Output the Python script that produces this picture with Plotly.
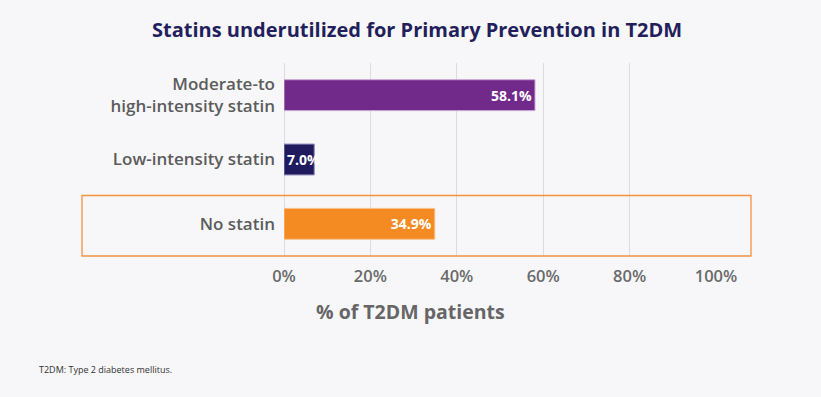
import plotly.graph_objects as go

categories = ["Moderate-to<br>high-intensity statin", "Low-intensity statin", "No statin"]
values = [58.1, 7.0, 34.9]
labels = ["58.1%", "7.0%", "34.9%"]
colors = ["#722a8a", "#201b5e", "#f48a22"]
edge_colors = ["#c9a6d4", "#8f8bb8", "#f8c08a"]
text_anchor = ["end", "start", "end"]
tick_vals = [0, 20, 40, 60, 80, 100]
tick_text = ["0%", "20%", "40%", "60%", "80%", "100%"]

FONT = "Open Sans"
fig = go.Figure()
for i in range(len(categories)):
    fig.add_trace(go.Bar(
        x=[values[i]], y=[categories[i]], orientation="h",
        marker=dict(color=colors[i], line=dict(color=edge_colors[i], width=1)),
        width=0.48,
        text=[labels[i]], textposition="inside", insidetextanchor=text_anchor[i],
        constraintext="none", textangle=0,
        textfont=dict(family=FONT, size=14, color="white", weight="bold"),
        hoverinfo="skip", showlegend=False,
    ))

fig.update_layout(
    width=821, height=397,
    paper_bgcolor="#f7f7f9", plot_bgcolor="#f7f7f9",
    margin=dict(l=284, r=105, t=63, b=141),
    barmode="overlay",
    title=dict(text="<b>Statins underutilized for Primary Prevention in T2DM</b>",
               x=0.508, xanchor="center", y=0.925, yanchor="middle",
               font=dict(family=FONT, size=20, color="#231f5c")),
    xaxis=dict(range=[0, 100], tickvals=tick_vals, ticktext=tick_text,
               showgrid=True, gridcolor="#dcdcdf", gridwidth=1,
               zeroline=True, zerolinecolor="#dcdcdf", zerolinewidth=1,
               showline=False, ticks="", ticklabelstandoff=8,
               tickfont=dict(family=FONT, size=16.5, color="#6a6a6a", weight=600)),
    yaxis=dict(categoryorder="array", categoryarray=categories, autorange="reversed",
               range=[2.5, -0.5], showgrid=False, zeroline=False, ticks="",
               ticklabelstandoff=8,
               tickfont=dict(family=FONT, size=17, color="#5c5c5c", weight=600)),
)

fig.add_shape(type="rect", xref="paper", yref="paper",
              x0=(82 - 284) / 432, x1=(751 - 284) / 432,
              y0=0, y1=(256 - 195.5) / 193,
              line=dict(color="#f5913f", width=1.3), fillcolor="rgba(0,0,0,0)", layer="above")

fig.add_annotation(text="<b>% of T2DM patients</b>", xref="paper", yref="paper",
                   x=(410 - 284) / 432, y=-(311 - 256) / 193, xanchor="center", yanchor="middle",
                   showarrow=False, font=dict(family=FONT, size=19.5, color="#666666"))
fig.add_annotation(text="T2DM: Type 2 diabetes mellitus.", xref="paper", yref="paper",
                   x=(37 - 284) / 432, y=-(369 - 256) / 193, xanchor="left", yanchor="middle",
                   showarrow=False, font=dict(family=FONT, size=9, color="#333333"))

fig.write_html("out.html", config={"displayModeBar": False},
               post_script="document.body.style.margin='0';document.body.style.background='#f7f7f9';")
